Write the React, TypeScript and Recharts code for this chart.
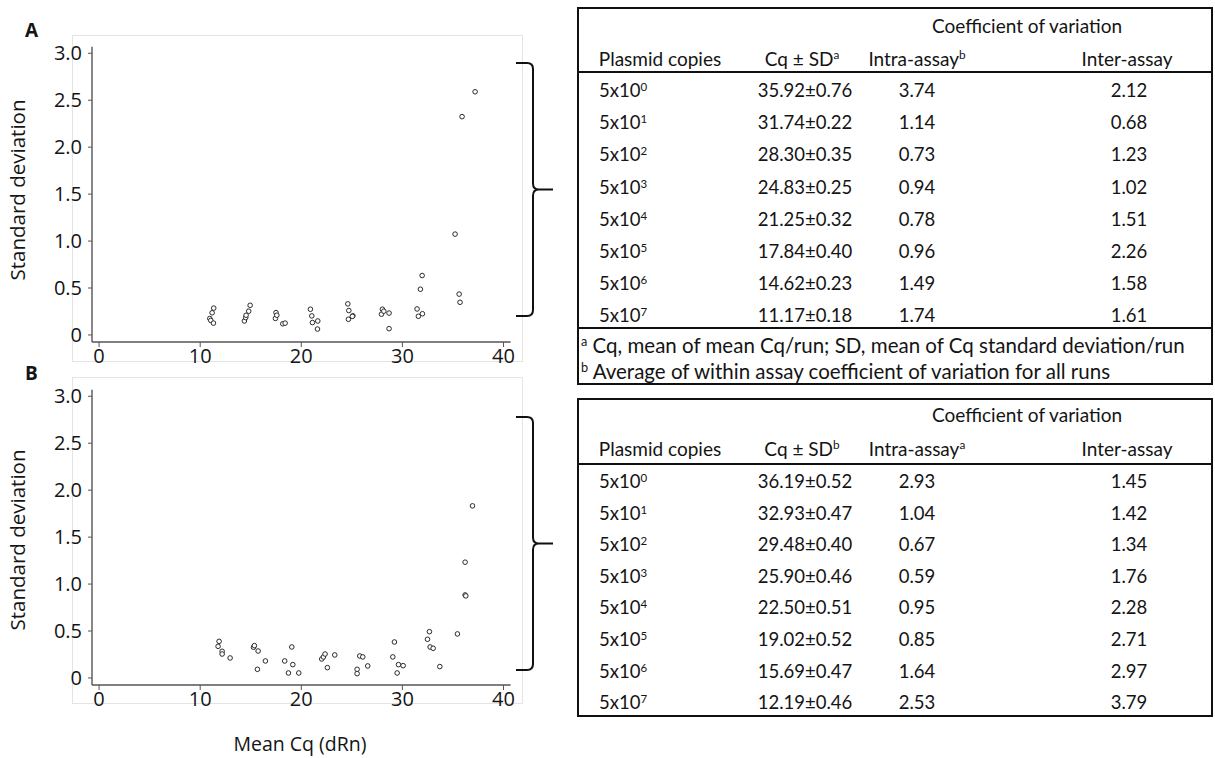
import React from "react";
import { ScatterChart, Scatter, XAxis, YAxis } from "recharts";

// run-level Cq means and standard deviations, panel A
const cqA = [
  10.95, 11.05, 11.18, 11.34, 11.31, 14.37, 14.5, 14.54, 14.8, 14.94, 17.44,
  17.5, 17.58, 18.17, 18.4, 20.9, 21.04, 21.1, 21.63, 21.6, 24.6, 24.7, 24.66,
  25.1, 25.05, 27.93, 28.02, 28.16, 28.68, 28.68, 31.45, 31.58, 31.78, 31.95,
  31.98, 35.21, 35.61, 35.7, 35.9, 37.19,
];
const sdA = [
  0.175, 0.155, 0.236, 0.286, 0.126, 0.149, 0.185, 0.21, 0.253, 0.316, 0.176,
  0.238, 0.21, 0.119, 0.126, 0.274, 0.203, 0.132, 0.149, 0.063, 0.331, 0.26,
  0.167, 0.204, 0.198, 0.221, 0.274, 0.253, 0.233, 0.067, 0.277, 0.199, 0.487,
  0.633, 0.226, 1.074, 0.435, 0.348, 2.325, 2.59,
];

// panel B
const cqB = [
  11.77, 11.87, 12.17, 12.17, 12.96, 15.27, 15.36, 15.66, 15.73, 16.45, 18.36,
  18.73, 19.06, 19.16, 19.75, 22.02, 22.19, 22.35, 22.58, 23.31, 25.52, 25.52,
  25.78, 26.08, 26.57, 29.05, 29.21, 29.48, 29.61, 30.07, 32.48, 32.67, 32.74,
  33.04, 33.7, 35.44, 36.2, 36.2, 36.27, 36.93,
];
const sdB = [
  0.337, 0.39, 0.284, 0.255, 0.213, 0.327, 0.344, 0.092, 0.287, 0.181, 0.181,
  0.053, 0.33, 0.142, 0.053, 0.202, 0.224, 0.255, 0.11, 0.245, 0.092, 0.046,
  0.234, 0.224, 0.128, 0.224, 0.383, 0.053, 0.142, 0.131, 0.412, 0.493, 0.33,
  0.316, 0.121, 0.469, 1.233, 0.884, 0.874, 1.833,
];

const xTicks = [0, 10, 20, 30, 40];
const yTicks = [0, 0.5, 1, 1.5, 2, 2.5, 3];

// summary tables
const copyExponents = [0, 1, 2, 3, 4, 5, 6, 7];
const cqMeanA = [35.92, 31.74, 28.3, 24.83, 21.25, 17.84, 14.62, 11.17];
const cqSdA = [0.76, 0.22, 0.35, 0.25, 0.32, 0.4, 0.23, 0.18];
const intraA = [3.74, 1.14, 0.73, 0.94, 0.78, 0.96, 1.49, 1.74];
const interA = [2.12, 0.68, 1.23, 1.02, 1.51, 2.26, 1.58, 1.61];

const cqMeanB = [36.19, 32.93, 29.48, 25.9, 22.5, 19.02, 15.69, 12.19];
const cqSdB = [0.52, 0.47, 0.4, 0.46, 0.51, 0.52, 0.47, 0.46];
const intraB = [2.93, 1.04, 0.67, 0.59, 0.95, 0.85, 1.64, 2.53];
const interB = [1.45, 1.42, 1.34, 1.76, 2.28, 2.71, 2.97, 3.79];

const footnotesA = [
  "Cq, mean of mean Cq/run; SD, mean of Cq standard deviation/run",
  "Average of within assay coefficient of variation for all runs",
];

const zip = (xs: number[], ys: number[]) =>
  xs.map((cq, i) => ({ cq, sd: ys[i] }));

const pointsA = zip(cqA, sdA);
const pointsB = zip(cqB, sdB);

const AXIS_FONT = "'Open Sans', sans-serif";
const TABLE_FONT = "Lato, 'Open Sans', sans-serif";
const INK = "#141414";

const Ring = (props: any) => {
  const { cx, cy } = props;
  if (cx == null || cy == null) return null;
  return (
    <circle cx={cx} cy={cy} r={2.3} fill="#fff" stroke="#2a2a2a" strokeWidth={1} />
  );
};

const SdPlot = ({ data, top }: { data: { cq: number; sd: number }[]; top: number }) => (
  <div style={{ position: "absolute", left: 0, top }}>
    <ScatterChart
      width={530}
      height={372}
      margin={{ top: 46.7, right: 19.4, bottom: 0, left: 0 }}
    >
      <XAxis
        type="number"
        dataKey="cq"
        domain={[-0.7, 40.7]}
        ticks={xTicks}
        allowDataOverflow
        height={30}
        tickSize={5}
        tickMargin={2}
        axisLine={{ stroke: "#555", strokeWidth: 1.4 }}
        tickLine={{ stroke: "#555" }}
        tick={{ fill: INK, fontSize: 20, fontFamily: AXIS_FONT }}
      />
      <YAxis
        type="number"
        dataKey="sd"
        domain={[-0.075, 3.07]}
        ticks={yTicks}
        allowDataOverflow
        width={92}
        tickSize={4}
        tickMargin={6}
        tickFormatter={(v: number) => (v === 0 ? "0" : v.toFixed(1))}
        axisLine={{ stroke: "#555", strokeWidth: 1.4 }}
        tickLine={{ stroke: "#555" }}
        tick={{ fill: INK, fontSize: 20, fontFamily: AXIS_FONT }}
      />
      <Scatter data={data} shape={Ring} isAnimationActive={false} />
    </ScatterChart>
  </div>
);

const Sup = ({ children }: { children: React.ReactNode }) => (
  <sup style={{ fontSize: "0.62em", lineHeight: 0, verticalAlign: "0.55em" }}>
    {children}
  </sup>
);

type TableProps = {
  top: number;
  height: number;
  rowStart: number;
  rowStep: number;
  headerY: number;
  coefY: number;
  ruleY: number;
  means: number[];
  sds: number[];
  intra: number[];
  inter: number[];
  cqMark: string;
  intraMark: string;
  lastRuleY?: number;
  notes?: string[];
  noteY?: number[];
};

const Cell = ({
  x,
  y,
  align = "center",
  size,
  children,
}: {
  x: number;
  y: number;
  align?: "center" | "left";
  size?: number;
  children: React.ReactNode;
}) => (
  <span
    style={{
      position: "absolute",
      left: x,
      top: y,
      whiteSpace: "nowrap",
      fontSize: size,
      transform: align === "center" ? "translate(-50%, -50%)" : "translate(0, -50%)",
    }}
  >
    {children}
  </span>
);

const CvTable = (p: TableProps) => (
  <div
    style={{
      position: "absolute",
      left: 577,
      top: p.top,
      width: 636,
      height: p.height,
      boxSizing: "border-box",
      border: "2px solid #111",
      fontFamily: TABLE_FONT,
      fontSize: 18.5,
      color: INK,
    }}
  >
    <Cell x={448} y={p.coefY} size={19}>Coefficient of variation</Cell>
    <Cell x={81} y={p.headerY} size={19}>Plasmid copies</Cell>
    <Cell x={223} y={p.headerY} size={19}>
      Cq ± SD<Sup>{p.cqMark}</Sup>
    </Cell>
    <Cell x={338} y={p.headerY} size={19}>
      Intra-assay<Sup>{p.intraMark}</Sup>
    </Cell>
    <Cell x={548} y={p.headerY} size={19}>Inter-assay</Cell>
    <div
      style={{
        position: "absolute",
        left: 0,
        right: 0,
        top: p.ruleY,
        borderTop: "2px solid #111",
      }}
    />
    {copyExponents.map((e, i) => {
      const y = p.rowStart + i * p.rowStep;
      return (
        <React.Fragment key={e}>
          <Cell x={20} y={y} align="left">
            5x10<Sup>{e}</Sup>
          </Cell>
          <Cell x={226} y={y}>
            {p.means[i].toFixed(2)}±{p.sds[i].toFixed(2)}
          </Cell>
          <Cell x={338} y={y}>{p.intra[i].toFixed(2)}</Cell>
          <Cell x={550} y={y}>{p.inter[i].toFixed(2)}</Cell>
        </React.Fragment>
      );
    })}
    {p.lastRuleY != null && (
      <div
        style={{
          position: "absolute",
          left: 0,
          right: 0,
          top: p.lastRuleY,
          borderTop: "2px solid #111",
        }}
      />
    )}
    {p.notes &&
      p.notes.map((n, i) => (
        <Cell key={n} x={2} y={p.noteY![i]} align="left" size={20.5}>
          <Sup>{i === 0 ? "a" : "b"}</Sup> {n}
        </Cell>
      ))}
  </div>
);

const Brace = ({ top, bottom }: { top: number; bottom: number }) => {
  const mid = (top + bottom) / 2;
  return (
    <path
      d={`M516,${top} H527 Q533,${top} 533,${top + 6} V${mid - 6} Q533,${mid} 539,${mid} H553 M539,${mid} Q533,${mid} 533,${mid + 6} V${bottom - 6} Q533,${bottom} 527,${bottom} H516`}
      fill="none"
      stroke="#111"
      strokeWidth={2}
    />
  );
};

export default function App() {
  return (
    <div
      style={{
        position: "absolute",
        left: 0,
        top: 0,
        width: 1215,
        height: 758,
        background: "#fff",
        overflow: "hidden",
      }}
    >
      {/* light frames around the two plots */}
      <div
        style={{
          position: "absolute",
          left: 72,
          top: 35,
          width: 451,
          height: 327,
          border: "1px solid #e4e4e4",
          boxSizing: "border-box",
        }}
      />
      <div
        style={{
          position: "absolute",
          left: 72,
          top: 377,
          width: 451,
          height: 327,
          border: "1px solid #e4e4e4",
          boxSizing: "border-box",
        }}
      />
      <SdPlot data={pointsA} top={0} />
      <SdPlot data={pointsB} top={342.6} />

      <svg
        width={1215}
        height={758}
        style={{ position: "absolute", left: 0, top: 0, pointerEvents: "none" }}
      >
        <g fontFamily={AXIS_FONT} fill={INK}>
          <text x={31.5} y={37} fontSize={19} fontWeight={700} textAnchor="middle">
            A
          </text>
          <text x={31.5} y={380} fontSize={19} fontWeight={700} textAnchor="middle">
            B
          </text>
          <text
            transform="translate(25,190) rotate(-90)"
            fontSize={20.5}
            textAnchor="middle"
          >
            Standard deviation
          </text>
          <text
            transform="translate(25,540) rotate(-90)"
            fontSize={20.5}
            textAnchor="middle"
          >
            Standard deviation
          </text>
          <text x={300} y={751} fontSize={19.5} textAnchor="middle">
            Mean Cq (dRn)
          </text>
        </g>
        <Brace top={63} bottom={316} />
        <Brace top={417} bottom={670} />
      </svg>

      <CvTable
        top={7}
        height={378}
        coefY={16}
        headerY={49}
        ruleY={62}
        rowStart={81}
        rowStep={32.2}
        means={cqMeanA}
        sds={cqSdA}
        intra={intraA}
        inter={interA}
        cqMark="a"
        intraMark="b"
        lastRuleY={318}
        notes={footnotesA}
        noteY={[336, 362]}
      />
      <CvTable
        top={398}
        height={319}
        coefY={14}
        headerY={48}
        ruleY={63}
        rowStart={81}
        rowStep={31.6}
        means={cqMeanB}
        sds={cqSdB}
        intra={intraB}
        inter={interB}
        cqMark="b"
        intraMark="a"
      />
    </div>
  );
}
